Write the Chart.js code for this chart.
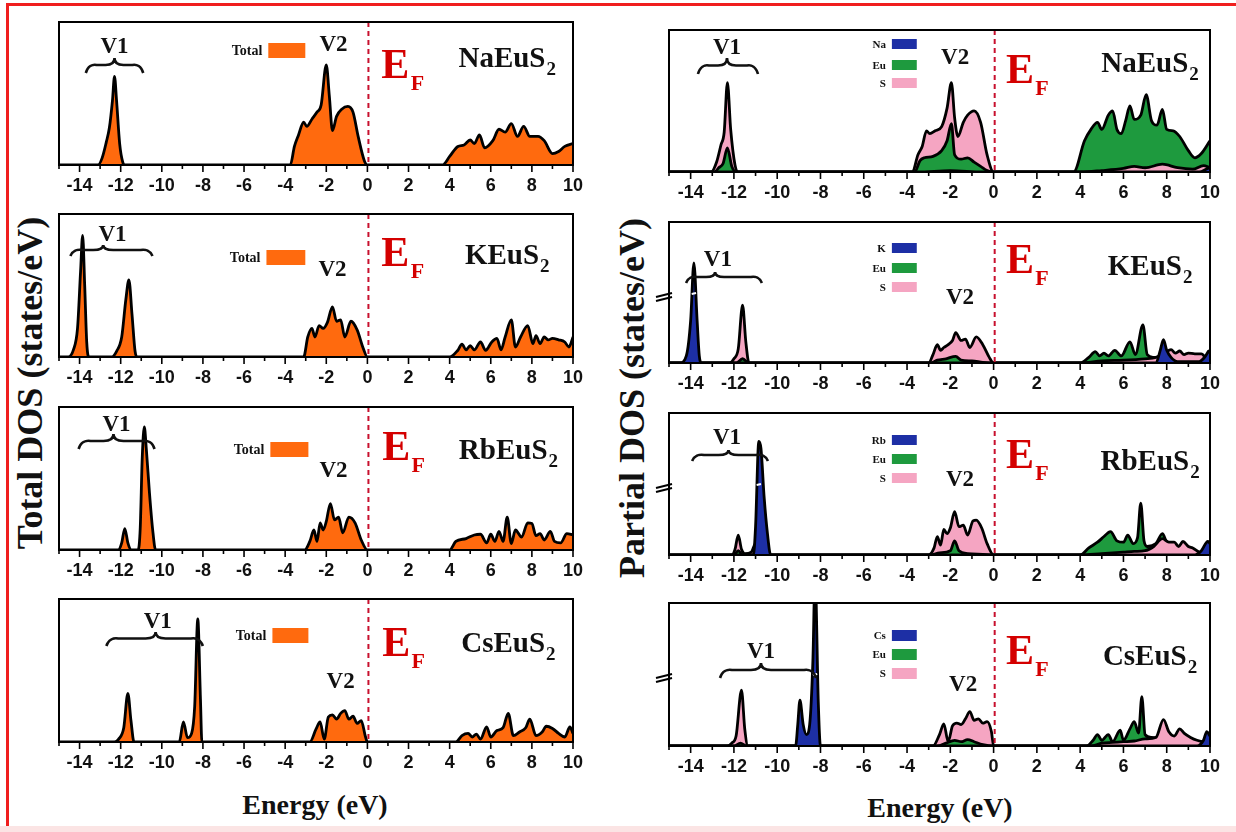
<!DOCTYPE html>
<html><head><meta charset="utf-8">
<script src="https://cdn.jsdelivr.net/npm/chart.js@4.4.1/dist/chart.umd.min.js"></script>
<style>
html,body{margin:0;padding:0;background:#fff;}
#page{position:relative;width:1236px;height:832px;overflow:hidden;background:#fff;}
canvas{position:absolute;}
.t{position:absolute;font-family:"Liberation Serif","Times New Roman",serif;font-weight:bold;color:#111;white-space:nowrap;}
.rot{transform:translate(-50%,-50%) rotate(-90deg);}
.hc{transform:translate(-50%,-50%);}
</style></head>
<body><div id="page">
<div style="position:absolute;left:6px;top:3px;width:1240px;height:823px;border-left:3px solid #f01e1e;border-top:3px solid #f01e1e;"></div>
<div style="position:absolute;left:0;top:826px;width:1236px;height:6px;background:#fbe4e4;"></div>
<div class="t rot" style="left:30px;top:383px;font-size:36px;">Total DOS (states/eV)</div>
<div class="t rot" style="left:632px;top:398px;font-size:36px;">Partial DOS (states/eV)</div>
<div class="t hc" style="left:315px;top:805px;font-size:28px;">Energy (eV)</div>
<div class="t hc" style="left:940px;top:808px;font-size:28px;">Energy (eV)</div>
</div>
<script>
// ---------- data (energy eV, DOS in frame units 0..10) ----------
const xTickLabels = [-14,-12,-10,-8,-6,-4,-2,0,2,4,6,8,10];
const EF_POS = 0.05;

const naEuS2Total = [[-15,0],[-13.1,0],[-12.9,0.5],[-12.7,1.6],[-12.55,2.6],[-12.4,4.5],[-12.3,6.2],[-12.2,4.5],[-12.05,1.5],[-11.9,0.2],[-11.8,0],
 [-3.75,0],[-3.55,1.3],[-3.35,2.1],[-3.1,3.0],[-2.95,2.7],[-2.7,3.2],[-2.45,3.7],[-2.25,4.2],[-2.0,7.0],[-1.85,4.8],[-1.7,2.4],[-1.5,3.4],[-1.25,3.9],[-0.95,4.1],[-0.7,3.7],[-0.45,2.0],[-0.15,0.3],[0,0],
 [3.65,0],[4.0,0.6],[4.4,1.3],[4.7,1.4],[5.0,1.75],[5.2,1.5],[5.45,2.1],[5.7,1.2],[6.1,1.7],[6.4,2.5],[6.7,2.3],[7.0,2.9],[7.3,2.0],[7.6,2.7],[7.9,2.0],[8.3,2.0],[8.6,1.7],[9.0,0.8],[9.3,0.95],[9.6,1.3],[10,1.5]];

const kEuS2Total = [[-15,0],[-14.55,0],[-14.3,0.5],[-14.1,2.0],[-13.95,6.0],[-13.85,8.5],[-13.75,5.0],[-13.65,1.0],[-13.55,0],
 [-12.45,0],[-12.2,0.4],[-11.95,1.4],[-11.75,4.0],[-11.6,5.4],[-11.45,3.0],[-11.3,0.4],[-11.2,0],
 [-3.1,0],[-2.9,1.4],[-2.7,2.0],[-2.55,1.4],[-2.35,2.2],[-2.15,2.0],[-1.95,2.4],[-1.7,3.5],[-1.5,2.5],[-1.3,2.6],[-1.1,1.4],[-0.8,2.5],[-0.5,1.9],[-0.2,0.6],[0,0],
 [4.0,0],[4.4,0.47],[4.6,0.9],[4.8,0.5],[5.0,0.8],[5.2,0.5],[5.5,1.05],[5.75,0.47],[6.05,1.05],[6.3,1.3],[6.5,0.5],[6.7,1.4],[7.0,2.6],[7.2,0.7],[7.45,1.4],[7.8,2.2],[8.05,0.93],[8.2,1.5],[8.4,0.93],[8.6,1.4],[8.8,1.2],[9.0,1.3],[9.3,1.2],[9.6,1.05],[9.8,0.7],[10,1.4]];

const rbEuS2Total = [[-15,0],[-12.1,0],[-11.95,0.5],[-11.8,1.5],[-11.65,0.5],[-11.5,0],
 [-11.15,0],[-11.05,1.5],[-10.95,6.5],[-10.85,8.6],[-10.75,7.0],[-10.6,4.0],[-10.45,1.5],[-10.3,0],
 [-3.05,0],[-2.8,0.6],[-2.6,1.4],[-2.45,0.6],[-2.3,1.9],[-2.15,1.4],[-2.0,2.0],[-1.8,3.25],[-1.6,2.1],[-1.4,2.3],[-1.2,1.2],[-0.9,2.3],[-0.6,1.9],[-0.3,0.7],[0,0],
 [4.0,0],[4.3,0.6],[4.8,0.8],[5.2,1.05],[5.5,1.1],[5.8,0.5],[6.0,1.1],[6.2,0.6],[6.4,1.3],[6.6,0.6],[6.8,2.3],[7.0,0.45],[7.2,1.4],[7.5,0.9],[7.8,1.9],[8.0,1.85],[8.2,1.0],[8.4,1.15],[8.6,0.7],[8.9,1.3],[9.1,0.6],[9.4,0.5],[9.7,1.15],[10,1.05]];

const csEuS2Total = [[-15,0],[-12.3,0],[-12.1,0.2],[-11.85,1.0],[-11.65,3.4],[-11.5,1.5],[-11.35,0],
 [-9.15,0],[-8.95,1.4],[-8.75,0.3],[-8.55,0.6],[-8.4,2.5],[-8.25,8.6],[-8.12,3.0],[-8.05,0],
 [-2.8,0],[-2.5,0.9],[-2.3,1.4],[-2.1,0.2],[-1.9,1.75],[-1.7,1.9],[-1.5,1.6],[-1.3,2.0],[-1.1,2.2],[-0.9,1.6],[-0.7,1.8],[-0.5,1.3],[-0.3,1.5],[-0.1,0.4],[0,0],
 [4.3,0],[4.6,0.45],[4.9,0.6],[5.1,0.35],[5.3,0.55],[5.5,0.2],[5.8,1.05],[6.0,0.35],[6.3,0.8],[6.6,1.0],[6.85,2.0],[7.1,0.45],[7.4,0.7],[7.7,1.0],[7.9,1.6],[8.2,0.45],[8.5,0.7],[8.7,1.1],[9.0,0.95],[9.3,0.6],[9.6,0.35],[9.85,1.05],[10,0.6]];

// partial DOS
const naEuS2_S = [[-15,0],[-13.05,0],[-12.8,0.7],[-12.6,1.9],[-12.45,2.8],[-12.3,6.3],[-12.15,3.0],[-11.95,0.5],[-11.8,0],
 [-3.75,0],[-3.5,1.2],[-3.3,1.8],[-3.1,2.9],[-2.95,2.7],[-2.7,2.9],[-2.4,3.2],[-2.15,4.5],[-1.95,6.3],[-1.8,3.8],[-1.65,2.5],[-1.4,3.5],[-1.2,4.0],[-0.9,4.3],[-0.6,3.5],[-0.3,1.2],[0,0],
 [4.0,0],[5.0,0.1],[6.0,0.25],[6.5,0.4],[7.0,0.3],[7.8,0.55],[8.5,0.3],[9.2,0.2],[9.7,0.45],[10,0.3]];
const naEuS2_Eu = [[-15,0],[-12.9,0],[-12.7,0.3],[-12.5,0.6],[-12.3,1.7],[-12.1,0.4],[-11.9,0],
 [-3.65,0],[-3.4,0.8],[-3.2,1.0],[-2.8,1.1],[-2.4,1.5],[-2.15,2.2],[-1.95,3.4],[-1.8,1.2],[-1.5,0.9],[-1.2,1.0],[-0.9,0.7],[-0.6,0.4],[-0.3,0.1],[0,0],
 [3.7,0],[4.2,2.2],[4.5,3.0],[4.8,3.5],[5.0,3.0],[5.3,4.0],[5.5,4.3],[5.7,3.0],[5.9,2.7],[6.1,3.6],[6.3,4.65],[6.5,3.7],[6.8,4.0],[7.05,5.45],[7.3,3.6],[7.55,3.3],[7.8,4.4],[8.0,3.0],[8.3,2.9],[8.6,2.5],[9.0,1.5],[9.3,1.0],[9.6,1.3],[10,2.2]];
const naEuS2_Na = [[-15,0],[-3.5,0],[-2.0,0.1],[-0.5,0],[4.0,0],[9.5,0],[9.9,0.25],[10,0.3]];

const kEuS2_S = [[-15,0],[-14.3,0],[-14.0,0.2],[-13.8,0.3],[-13.6,0],
 [-12.2,0],[-12.0,0.3],[-11.8,1.0],[-11.6,4.1],[-11.45,1.5],[-11.3,0],
 [-3.0,0],[-2.8,0.6],[-2.6,1.3],[-2.45,0.9],[-2.3,1.1],[-2.1,1.3],[-1.9,1.6],[-1.75,2.15],[-1.5,1.6],[-1.3,1.7],[-1.1,1.1],[-0.8,1.85],[-0.5,1.3],[-0.2,0.4],[0,0],
 [4.0,0],[5.0,0.15],[6.0,0.2],[7.0,0.3],[7.5,0.4],[7.9,0.7],[8.2,0.95],[8.4,0.7],[8.6,0.85],[8.8,0.6],[9.0,0.7],[9.3,0.65],[9.6,0.65],[9.8,0.4],[10,0.3]];
const kEuS2_Eu = [[-15,0],[-11.9,0],[-11.6,0.3],[-11.3,0],
 [-2.9,0],[-2.6,0.2],[-2.2,0.3],[-1.75,0.47],[-1.5,0.2],[-1.0,0.15],[-0.5,0.05],[0,0],
 [4.0,0],[4.4,0.4],[4.7,0.8],[4.9,0.5],[5.1,0.7],[5.3,0.5],[5.6,0.9],[5.9,0.5],[6.3,1.5],[6.55,0.6],[6.9,2.7],[7.1,0.6],[7.4,0.4],[7.8,0.3],[8.5,0.15],[9.0,0.1],[10,0]];
const kEuS2_K = [[-15,0],[-14.5,0],[-14.2,0.5],[-14.0,3.0],[-13.85,7.1],[-13.7,3.0],[-13.6,0.5],[-13.5,0],
 [-3.0,0],[0,0],[7.5,0],[7.7,0.9],[7.85,1.65],[8.0,0.9],[8.2,0.4],[8.5,0.1],[9.5,0.1],[9.8,0.5],[9.95,0.85],[10,0.7]];

const rbEuS2_S = [[-15,0],[-12.1,0],[-11.95,0.4],[-11.8,1.4],[-11.65,0.4],[-11.5,0.1],[-11.2,0.2],[-11.0,0.8],[-10.85,0.5],[-10.6,0],
 [-3.0,0],[-2.75,0.5],[-2.6,1.3],[-2.45,0.7],[-2.3,1.8],[-2.15,1.5],[-2.0,1.9],[-1.8,3.05],[-1.6,2.0],[-1.4,2.1],[-1.2,1.4],[-0.95,2.4],[-0.8,2.45],[-0.55,1.9],[-0.3,0.8],[0,0],
 [4.0,0],[5.0,0.1],[6.0,0.2],[6.5,0.25],[7.0,0.3],[7.4,0.6],[7.8,1.15],[8.1,0.9],[8.35,0.9],[8.55,0.6],[8.75,0.95],[9.0,0.6],[9.2,0.5],[9.5,0.2],[10,0.1]];
const rbEuS2_Eu = [[-15,0],[-12.0,0],[-11.8,0.3],[-11.6,0],[-11.1,0],[-10.9,0.3],[-10.7,0],
 [-2.9,0],[-2.5,0.15],[-2.0,0.3],[-1.8,1.0],[-1.6,0.3],[-1.2,0.1],[-0.5,0.05],[0,0],
 [4.0,0],[4.4,0.5],[4.8,0.9],[5.1,1.3],[5.4,1.65],[5.7,1.0],[6.0,0.9],[6.2,1.4],[6.45,0.8],[6.65,1.2],[6.8,3.65],[6.95,1.0],[7.1,0.6],[7.5,0.8],[7.8,1.5],[8.0,0.9],[8.3,0.6],[8.6,0.4],[9.0,0.3],[9.5,0.1],[10,0]];
const rbEuS2_Rb = [[-15,0],[-11.1,0],[-11.0,2.0],[-10.85,8.0],[-10.75,7.5],[-10.6,4.0],[-10.45,1.5],[-10.3,0],
 [0,0],[9.3,0],[9.6,0.3],[9.9,0.95],[10,0.8]];

const csEuS2_S = [[-15,0],[-12.3,0],[-12.1,0.2],[-11.9,0.7],[-11.65,3.9],[-11.5,1.2],[-11.35,0],
 [-8.4,0],[-8.25,0.2],[-8.1,0],
 [-2.8,0],[-2.5,0.8],[-2.3,1.55],[-2.1,0.3],[-1.9,1.4],[-1.7,1.6],[-1.5,1.5],[-1.3,1.9],[-1.1,2.4],[-0.9,1.8],[-0.7,1.9],[-0.5,1.6],[-0.3,1.7],[-0.1,1.0],[0,0],
 [4.5,0],[5.0,0.2],[5.5,0.25],[6.0,0.3],[6.5,0.35],[7.0,0.5],[7.5,0.6],[7.85,1.85],[8.1,1.0],[8.35,0.7],[8.6,1.2],[8.8,0.9],[9.1,0.6],[9.4,0.4],[9.7,0.3],[10,0.3]];
const csEuS2_Eu = [[-15,0],[-12.0,0],[-11.7,0.2],[-11.4,0],
 [-2.6,0],[-2.2,0.2],[-1.8,0.4],[-1.5,0.3],[-1.2,0.45],[-0.9,0.3],[-0.5,0.1],[0,0],
 [4.3,0],[4.6,0.4],[4.8,0.8],[5.0,0.4],[5.3,0.8],[5.5,0.3],[5.85,1.1],[6.0,0.4],[6.3,1.2],[6.5,1.7],[6.7,0.9],[6.85,3.45],[7.0,0.8],[7.3,0.6],[7.6,0.5],[7.85,0.9],[8.2,0.4],[8.6,0.3],[9.0,0.2],[9.5,0.1],[10,0]];
const csEuS2_Cs = [[-15,0],[-9.15,0],[-9.05,1.5],[-8.95,3.2],[-8.8,1.5],[-8.65,0.8],[-8.5,1.5],[-8.35,6.0],[-8.25,12.0],[-8.1,3.0],[-8.0,0],
 [0,0],[9.4,0],[9.7,0.4],[9.85,1.0],[10,0.7]];

// ---------- styles ----------
const ORANGE='#ff6a0e', GREEN='#1e9a3e', PINK='#f5a5c2', BLUE='#1d2fa5';
const SERIF='"Liberation Serif","Times New Roman",serif';
const SANS='"Liberation Sans",Arial,sans-serif';

function ds(arr,color,order){
  return {data:arr.map(p=>Array.isArray(p)?{x:p[0],y:p[1]}:p),backgroundColor:color,borderColor:'#000',borderWidth:2.8,
          fill:'origin',order:order,pointRadius:0,cubicInterpolationMode:'monotone'};
}
function split(arr){
  const v=[],c=[];
  for(const [x,y] of arr){ if(x<=2) v.push({x,y}); if(x>=2) c.push({x,y}); }
  v.push({x:2,y:0}); c.unshift({x:2,y:0});
  return [v,c];
}
function partialSets(A,Eu,S){
  const [Av,Ac]=split(A),[Ev,Ec]=split(Eu),[Sv,Sc]=split(S);
  return [ds(Av,BLUE,0),ds(Ac,BLUE,0),ds(Ev,GREEN,1),ds(Sc,PINK,1),ds(Sv,PINK,2),ds(Ec,GREEN,2)];
}

// ---------- decoration plugin ----------
function brace(ctx,x1,x2,xc,y,h){
  const m=y+h*0.5, q=Math.min(10,(xc-x1)/3,(x2-xc)/3);
  ctx.beginPath();
  ctx.moveTo(x1-2,y+h+1);
  ctx.bezierCurveTo(x1,y+h*0.6,x1+q*0.5,m-1,x1+q,m);
  ctx.lineTo(xc-q,m);
  ctx.quadraticCurveTo(xc,m,xc,y);
  ctx.quadraticCurveTo(xc,m,xc+q,m);
  ctx.lineTo(x2-q,m);
  ctx.bezierCurveTo(x2-q*0.5,m-1,x2,y+h*0.6,x2+2,y+h+1);
  ctx.stroke();
}
const decoPlugin={
  id:'deco',
  afterDatasetsDraw(chart,args,o){
    if(!o||!o.on) return;
    const {ctx,chartArea:a,scales:{x}}=chart;
    const X=v=>x.getPixelForValue(v);
    ctx.save();
    if(o.brk){
      ctx.strokeStyle='#fff';ctx.lineWidth=2;
      ctx.beginPath();ctx.moveTo(X(o.brk.e-0.1),a.top+o.brk.y);ctx.lineTo(X(o.brk.e+0.1),a.top+o.brk.y-1);ctx.stroke();
    }
    ctx.strokeStyle='#c8102e';ctx.lineWidth=2;ctx.setLineDash([5,4]);
    ctx.beginPath();ctx.moveTo(X(EF_POS),a.top);ctx.lineTo(X(EF_POS),a.bottom);ctx.stroke();
    ctx.setLineDash([]);
    ctx.strokeStyle='#000';ctx.lineWidth=2;
    ctx.strokeRect(a.left,a.top,a.right-a.left,a.bottom-a.top);
    ctx.lineWidth=1.6;
    for(const t of x.ticks){
      const px=X(t.value), len=xTickLabels.includes(t.value)?7:4;
      ctx.beginPath();ctx.moveTo(px,a.bottom);ctx.lineTo(px,a.bottom+len);ctx.stroke();
    }
    if(o.brk){
      ctx.lineWidth=2;ctx.strokeStyle='#000';
      for(const k of [0,4]){ctx.beginPath();ctx.moveTo(a.left-13,a.top+o.brk.y+3+k);ctx.lineTo(a.left+3,a.top+o.brk.y-1+k);ctx.stroke();}
    }
    ctx.textBaseline='middle';
    ctx.fillStyle='#111';
    ctx.font='bold 23px '+SERIF;ctx.textAlign='center';
    ctx.fillText('V1',X(o.v1.x),a.top+o.v1.y);
    ctx.lineWidth=2.6;ctx.strokeStyle='#111';
    brace(ctx,X(o.br.x1),X(o.br.x2),X(o.br.xc),a.top+o.br.y,o.br.h);
    ctx.fillText('V2',X(o.v2.x),a.top+o.v2.y);
    for(const L of o.legend){
      ctx.fillStyle=L.color;
      ctx.fillRect(X(L.x1),a.top+L.y,X(L.x2)-X(L.x1),L.h);
      ctx.fillStyle='#111';ctx.textAlign='right';
      ctx.font='bold '+L.fs+'px '+SERIF;
      ctx.fillText(L.label,X(L.x1)-6,a.top+L.y+L.h/2+1);
    }
    ctx.fillStyle='#d40000';ctx.textAlign='center';
    ctx.font='bold 42px '+SERIF;
    ctx.fillText('E',X(o.ef.x),a.top+o.ef.y);
    ctx.font='bold 22px '+SERIF;
    ctx.fillText('F',X(o.ef.x)+22,a.top+o.ef.y+17);
    ctx.fillStyle='#111';ctx.textAlign='left';
    ctx.font='bold 29px '+SERIF;
    const w1=ctx.measureText(o.name.t).width;
    ctx.font='bold 19px '+SERIF;
    const w2=ctx.measureText('2').width;
    const sx=X(o.name.x)-(w1+w2+1)/2;
    ctx.font='bold 29px '+SERIF;
    ctx.fillText(o.name.t,sx,a.top+o.name.y);
    ctx.font='bold 19px '+SERIF;
    ctx.fillText('2',sx+w1+1,a.top+o.name.y+10);
    ctx.restore();
  }
};
Chart.register(decoPlugin);

// ---------- panels ----------
const totLeg=(x1,x2,y)=>[{label:'Total',color:ORANGE,x1,x2,y,h:15,fs:14}];
const parLeg=(el,ys,h)=>[{label:el,color:BLUE,x1:-4.7,x2:-3.55,y:ys[0],h,fs:11},{label:'Eu',color:GREEN,x1:-4.7,x2:-3.55,y:ys[1],h,fs:11},{label:'S',color:PINK,x1:-4.7,x2:-3.55,y:ys[2],h,fs:11}];

const panels=[
 {l:59,r:573,t:22,b:165,sets:[ds(naEuS2Total,ORANGE,0)],
  deco:{v1:{x:-12.3,y:25},br:{x1:-13.6,x2:-11.0,xc:-12.3,y:36,h:14},v2:{x:-1.65,y:23},legend:totLeg(-4.82,-3.02,21),ef:{x:1.36,y:45},name:{t:'NaEuS',x:6.8,y:38}}},
 {l:59,r:573,t:214,b:357,sets:[ds(kEuS2Total,ORANGE,0)],
  deco:{v1:{x:-12.4,y:21},br:{x1:-14.35,x2:-10.55,xc:-12.85,y:31,h:10},v2:{x:-1.7,y:56},legend:totLeg(-4.91,-3.02,36),ef:{x:1.36,y:41},name:{t:'KEuS',x:6.8,y:43}}},
 {l:59,r:573,t:407,b:550,sets:[ds(rbEuS2Total,ORANGE,0)],
  deco:{v1:{x:-12.2,y:18},br:{x1:-13.95,x2:-10.45,xc:-12.35,y:27,h:14},v2:{x:-1.65,y:64},legend:totLeg(-4.72,-2.87,35),ef:{x:1.4,y:42},name:{t:'RbEuS',x:6.86,y:45}}},
 {l:59,r:573,t:599,b:742,sets:[ds(csEuS2Total,ORANGE,0)],
  deco:{v1:{x:-10.2,y:23},br:{x1:-12.6,x2:-8.1,xc:-10.3,y:33,h:13},v2:{x:-1.3,y:83},legend:totLeg(-4.62,-2.87,29),ef:{x:1.4,y:46},name:{t:'CsEuS',x:6.86,y:46}}},
 {l:669,r:1210,t:30,b:172,sets:partialSets(naEuS2_Na,naEuS2_Eu,naEuS2_S),
  deco:{v1:{x:-12.32,y:18},br:{x1:-13.57,x2:-10.98,xc:-12.32,y:28,h:15},v2:{x:-1.78,y:28},legend:parLeg('Na',[9,30,48],10),ef:{x:1.22,y:42},name:{t:'NaEuS',x:7.23,y:35}}},
 {l:669,r:1210,t:222,b:363,sets:partialSets(kEuS2_K,kEuS2_Eu,kEuS2_S),
  deco:{v1:{x:-12.74,y:38},br:{x1:-14.12,x2:-10.8,xc:-12.87,y:50,h:10},v2:{x:-1.55,y:76},legend:parLeg('K',[21,41,60],10),ef:{x:1.22,y:40},name:{t:'KEuS',x:7.23,y:46},brk:{y:72,e:-13.85}}},
 {l:669,r:1210,t:413,b:555,sets:partialSets(rbEuS2_Rb,rbEuS2_Eu,rbEuS2_S),
  deco:{v1:{x:-12.32,y:25},br:{x1:-13.84,x2:-10.52,xc:-12.25,y:37,h:10},v2:{x:-1.55,y:67},legend:parLeg('Rb',[22,41,60],10),ef:{x:1.22,y:44},name:{t:'RbEuS',x:7.23,y:50},brk:{y:72,e:-10.85}}},
 {l:669,r:1210,t:603,b:746,sets:partialSets(csEuS2_Cs,csEuS2_Eu,csEuS2_S),
  deco:{v1:{x:-10.75,y:49},br:{x1:-12.55,x2:-8.3,xc:-10.75,y:60,h:14},v2:{x:-1.41,y:82},legend:parLeg('Cs',[27,46,65],11),ef:{x:1.22,y:50},name:{t:'CsEuS',x:7.23,y:55},brk:{y:72,e:-8.25}}}
];

const page=document.getElementById('page');
for(const p of panels){
  const cv=document.createElement('canvas');
  const W=(p.r-p.l)+50, H=(p.b-p.t)+6+40;
  cv.width=W;cv.height=H;cv.style.width=W+'px';cv.style.height=H+'px';
  page.appendChild(cv);
  p.deco.on=true;
  const chart=new Chart(cv,{type:'line',data:{datasets:p.sets},options:{
    responsive:false,animation:false,devicePixelRatio:1,
    layout:{padding:{left:25,right:25,top:6,bottom:0}},
    plugins:{legend:{display:false},tooltip:{enabled:false},deco:p.deco},
    scales:{
      x:{type:'linear',min:-15,max:10,afterFit(s){s.height=40;},
         grid:{display:false,drawTicks:false},border:{display:false},
         ticks:{stepSize:1,autoSkip:false,maxRotation:0,padding:10,color:'#111',
                font:{family:SANS,weight:'bold',size:18},
                callback:v=>xTickLabels.includes(v)?String(v):''}},
      y:{display:false,min:0,max:10}
    }
  }});
  let ca=chart.chartArea;
  const dw=(p.r-p.l)-(ca.right-ca.left), dh=(p.b-p.t)-(ca.bottom-ca.top);
  if(Math.abs(dw)>0.5||Math.abs(dh)>0.5){chart.resize(W+dw,H+dh);ca=chart.chartArea;}
  cv.style.left=(p.l-ca.left)+'px';cv.style.top=(p.t-ca.top)+'px';
}
</script>
</body></html>
